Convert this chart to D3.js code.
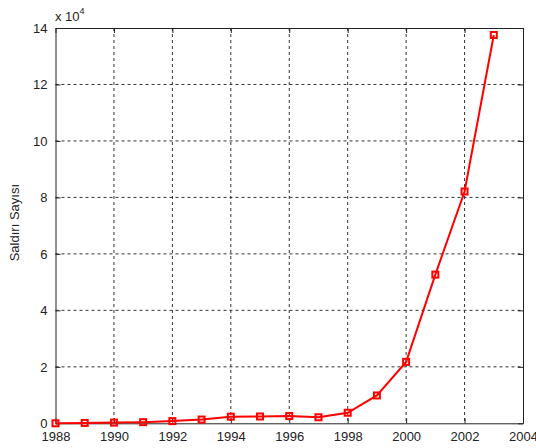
<!DOCTYPE html>
<html><head><meta charset="utf-8">
<script src="https://cdn.jsdelivr.net/npm/d3@7"></script>
<style>body{margin:0;background:#fff}svg{display:block}text{font-family:"Liberation Sans",Arial,sans-serif}</style>
</head><body>
<svg id="c" width="536" height="448"></svg>
<script>
const years = [1988,1989,1990,1991,1992,1993,1994,1995,1996,1997,1998,1999,2000,2001,2002,2003];
const incidents = [6,132,252,406,773,1334,2340,2412,2573,2134,3734,9859,21756,52658,82094,137529];
const xTicks = [1988,1990,1992,1994,1996,1998,2000,2002,2004];
const yTicks = [0,2,4,6,8,10,12,14];

const svg = d3.select("#c");
const L=55.5, R=523, T=28, B=423.3;
const x = d3.scaleLinear().domain([1988,2004]).range([L,R]);
const y = d3.scaleLinear().domain([0,14]).range([B,T]);

const g = svg.append("g");
// grid
g.selectAll(".gx").data(xTicks.slice(1,-1)).enter().append("line")
  .attr("x1",d=>x(d)).attr("x2",d=>x(d)).attr("y1",T).attr("y2",B)
  .attr("stroke","#333").attr("stroke-width",1).attr("stroke-dasharray","3,3");
g.selectAll(".gy").data(yTicks.slice(1,-1)).enter().append("line")
  .attr("y1",d=>y(d)).attr("y2",d=>y(d)).attr("x1",L).attr("x2",R)
  .attr("stroke","#333").attr("stroke-width",1).attr("stroke-dasharray","3,3");

// axes
const ax = svg.append("g");
ax.append("g").attr("transform",`translate(0,${B})`)
  .call(d3.axisBottom(x).tickValues(xTicks).tickFormat(d3.format("d")).tickSizeInner(-5).tickSizeOuter(0).tickPadding(8));
ax.append("g").attr("transform",`translate(0,${T})`)
  .call(d3.axisTop(x).tickValues(xTicks).tickFormat("").tickSizeInner(-5).tickSizeOuter(0));
ax.append("g").attr("transform",`translate(${L},0)`)
  .call(d3.axisLeft(y).tickValues(yTicks).tickFormat(d3.format("d")).tickSizeInner(-5).tickSizeOuter(0).tickPadding(8));
ax.append("g").attr("transform",`translate(${R},0)`)
  .call(d3.axisRight(y).tickValues(yTicks).tickFormat("").tickSizeInner(-5).tickSizeOuter(0));
ax.selectAll(".domain").attr("stroke","#222");
ax.selectAll(".tick line").attr("stroke","#222");
ax.selectAll(".tick text").attr("font-size",13).attr("fill","#222").attr("font-family","Liberation Sans, Arial, sans-serif");

// line
const line = d3.line().x((d,i)=>x(years[i])).y(d=>y(d/1e4));
svg.append("path").datum(incidents).attr("d",line)
  .attr("fill","none").attr("stroke","#ff0000").attr("stroke-width",2);
svg.selectAll(".m").data(incidents).enter().append("rect")
  .attr("x",(d,i)=>x(years[i])-3).attr("y",d=>y(d/1e4)-3)
  .attr("width",6).attr("height",6)
  .attr("fill","none").attr("stroke","#ff0000").attr("stroke-width",2);

// labels
svg.append("text").attr("transform",`translate(19,${(T+B)/2 - 3}) rotate(-90)`)
  .attr("text-anchor","middle").attr("font-size",13).attr("fill","#222").text("Saldırı Sayısı");
const ex = svg.append("text").attr("x",55).attr("y",21).attr("font-size",13).attr("fill","#222");
ex.append("tspan").text("x 10");
ex.append("tspan").attr("dy",-7).attr("font-size",9).text("4");
</script>
</body></html>
